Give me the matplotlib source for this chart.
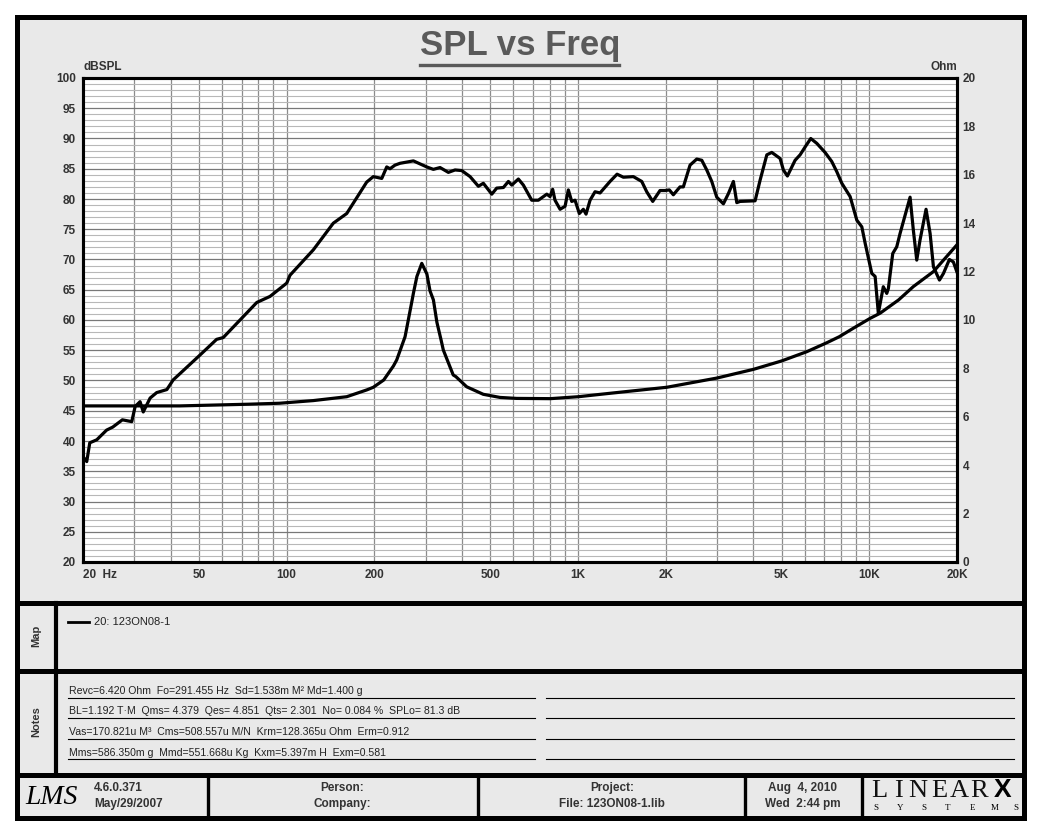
import numpy as np
import matplotlib.pyplot as plt
from matplotlib.ticker import FixedLocator, NullFormatter

plt.rcParams['font.family'] = ['Liberation Sans', 'DejaVu Sans']

# SPL curve (Hz, dB SPL)
freq_spl = [20.0, 20.6, 21.1, 22.3, 24.1, 25.3, 27.3, 29.4, 30.2, 31.4, 32.2, 34.0, 35.8, 38.8,
            40.8, 50.4, 57.5, 60.6, 79.0, 87.7, 100.1, 102.7, 123.5, 144.6, 160.8, 188.3, 198.4,
            212.1, 220.6, 226.4, 235.5, 245, 272.3, 287.1, 302.7, 318.9, 336.2, 359, 378.5, 399,
            426.3, 455.2, 473.4, 506, 526.1, 554.6, 577, 592.6, 624.4, 649.5, 693.9, 731.1, 781.7,
            801.8, 818.7, 834, 868.2, 903, 926.8, 951.9, 977.2, 1010.9, 1043.5, 1065.9, 1100.3,
            1144.5, 1190.7, 1288.4, 1362, 1431.9, 1549.2, 1655.6, 1721.8, 1805.7, 1912.4, 1989.6,
            2059, 2125, 2240, 2300, 2425, 2557, 2661, 2767, 2879, 2995, 3156, 3284, 3416, 3509,
            3601, 4055, 4218, 4449, 4626, 4941, 5071, 5235, 5563, 5787, 6021, 6296, 6603, 7049,
            7432, 7736, 8047, 8594, 9061, 9425, 9676, 10199, 10472, 10740, 11170, 11480, 11626,
            12037, 12422, 12753, 13803, 14160, 14550, 14930, 15660, 16170, 16600, 17410, 17970,
            18830, 19430, 19970]
spl_db = [37.4, 36.6, 39.7, 40.2, 41.8, 42.3, 43.5, 43.2, 45.7, 46.5, 44.8, 47.1, 48.0, 48.5,
          50.1, 54.2, 56.8, 57.1, 62.9, 63.9, 66.1, 67.4, 71.6, 76.0, 77.6, 82.8, 83.7,
          83.4, 85.3, 85.0, 85.6, 85.9, 86.3, 85.8, 85.3, 84.9, 85.2, 84.4, 84.8, 84.7,
          83.7, 82.1, 82.6, 80.8, 81.8, 81.9, 82.9, 82.3, 83.3, 82.3, 79.8, 79.8, 80.8,
          80.4, 81.6, 79.8, 78.3, 78.8, 81.5, 79.6, 79.8, 77.6, 78.3, 77.5, 79.8,
          81.2, 81.0, 82.9, 84.1, 83.6, 83.7, 82.9, 81.2, 79.6, 81.4, 81.4,
          81.5, 80.7, 82.0, 82.0, 85.6, 86.6, 86.4, 84.8, 82.9, 80.3, 79.2, 80.9, 82.9, 79.4,
          79.6, 79.7, 83.1, 87.3, 87.7, 86.7, 84.8, 83.8, 86.4, 87.3, 88.6, 90.0, 89.2, 87.7,
          86.2, 84.5, 82.6, 80.4, 76.5, 75.4, 72.7, 67.7, 67.2, 61.1, 65.5, 64.4, 65.2,
          71.0, 72.1, 74.3, 80.3, 74.9, 69.9, 73.2, 78.3, 74.3, 68.8, 66.6, 67.7,
          70.0, 69.6, 68.0]

# impedance curve (Hz, Ohm)
freq_z = [20, 42.9, 73.8, 94.5, 123.5, 160.8, 188.3, 198.4, 215.4, 232.6, 238.7, 255, 269.7,
          272.3, 280, 291, 303, 310.6, 319, 328, 339, 345, 373, 381, 415, 473, 540, 616, 804,
          1003, 1285, 2017, 2995, 4000, 5006, 6100, 7146, 7890, 8815, 10070, 10890, 12607,
          14160, 16600, 19970]
imp_ohm = [6.45, 6.45, 6.52, 6.56, 6.67, 6.83, 7.11, 7.22, 7.52, 8.1, 8.35, 9.31, 10.83,
           11.1, 11.8, 12.34, 11.9, 11.2, 10.83, 9.9, 9.17, 8.76, 7.73, 7.66, 7.24, 6.93, 6.80,
           6.76, 6.75, 6.83, 6.97, 7.22, 7.6, 7.96, 8.31, 8.69, 9.06, 9.31, 9.66, 10.07, 10.28,
           10.83, 11.38, 12.0, 13.1]

xtick_vals = [20, 50, 100, 200, 500, 1000, 2000, 5000, 10000, 20000]
xtick_labels = ['20  Hz', '50', '100', '200', '500', '1K', '2K', '5K', '10K', '20K']
notes = ['Revc=6.420 Ohm  Fo=291.455 Hz  Sd=1.538m M\u00b2 Md=1.400 g',
         'BL=1.192 T\u00b7M  Qms= 4.379  Qes= 4.851  Qts= 2.301  No= 0.084 %  SPLo= 81.3 dB',
         'Vas=170.821u M\u00b3  Cms=508.557u M/N  Krm=128.365u Ohm  Erm=0.912',
         'Mms=586.350m g  Mmd=551.668u Kg  Kxm=5.397m H  Exm=0.581']

W, H = 1040, 832
fig = plt.figure(figsize=(W / 100, H / 100), dpi=100)

# page frame, in pixel coordinates
bg = fig.add_axes([0, 0, 1, 1])
bg.set_xlim(0, W)
bg.set_ylim(H, 0)
bg.axis('off')
bg.add_patch(plt.Rectangle((16.5, 16.5), 1007.5, 801, fc='#e9e9e9', ec='black', lw=3.6))
for y in [602.5, 671, 775]:
    bg.plot([16.5, 1024], [y, y], color='black', lw=3.6, solid_capstyle='butt')
bg.plot([56, 56], [602.5, 775], color='black', lw=3.0)
for x in [208, 478, 745, 862]:
    bg.plot([x, x], [775, 817.5], color='black', lw=2.4)

dark = '#333333'
bg.text(520, 46, 'SPL vs Freq', fontsize=25, fontweight='bold', color='#5a5a5a', ha='center', va='center')
bg.plot([420, 619], [65, 65], color='#5a5a5a', lw=2.4)
bg.text(83, 67, 'dBSPL', fontsize=8.5, fontweight='bold', color=dark, ha='left', va='center')
bg.text(957, 67, 'Ohm', fontsize=8.5, fontweight='bold', color=dark, ha='right', va='center')

# map / notes panels
bg.text(36, 636, 'Map', fontsize=8, fontweight='bold', color=dark, rotation=90, ha='center', va='center')
bg.text(36, 722, 'Notes', fontsize=8, fontweight='bold', color=dark, rotation=90, ha='center', va='center')
bg.plot([68, 89], [622, 622], color='black', lw=2)
bg.text(94, 622, '20: 123ON08-1', fontsize=8, color='#222222', ha='left', va='center')
for i, line in enumerate(notes):
    y = 697.5 + i * 20.5
    bg.text(69, y - 1.5, line, fontsize=7.6, color='#222222', ha='left', va='bottom')
    bg.plot([68, 535], [y, y], color='black', lw=0.8)
    bg.plot([546, 1014], [y, y], color='black', lw=0.8)

# footer
bg.text(52, 797, 'LMS', fontsize=20, style='italic', family='Liberation Serif', ha='center', va='center')
bg.text(94, 788, '4.6.0.371', fontsize=8.5, fontweight='bold', color=dark, va='center')
bg.text(94, 804, 'May/29/2007', fontsize=8.5, fontweight='bold', color=dark, va='center')
bg.text(342, 788, 'Person:', fontsize=8.5, fontweight='bold', color=dark, ha='center', va='center')
bg.text(342, 804, 'Company:', fontsize=8.5, fontweight='bold', color=dark, ha='center', va='center')
bg.text(612, 788, 'Project:', fontsize=8.5, fontweight='bold', color=dark, ha='center', va='center')
bg.text(612, 804, 'File: 123ON08-1.lib', fontsize=8.5, fontweight='bold', color=dark, ha='center', va='center')
bg.text(803, 788, 'Aug  4, 2010', fontsize=8.5, fontweight='bold', color=dark, ha='center', va='center')
bg.text(803, 804, 'Wed  2:44 pm', fontsize=8.5, fontweight='bold', color=dark, ha='center', va='center')
for ch, x in zip('LINEAR', [879, 898, 918, 939, 959, 979]):
    bg.text(x, 791, ch, fontsize=19, family='Liberation Serif', color='#111111', ha='center', va='center')
bg.text(1003, 790, 'X', fontsize=19, fontweight='bold', family='Liberation Sans', ha='center', va='center')
for ch, x in zip('SYSTEMS', [876, 900, 924, 948, 972, 995, 1016]):
    bg.text(x, 808, ch, fontsize=6.5, family='Liberation Serif', ha='center', va='center')

# chart
ax = fig.add_axes([83 / W, 1 - 562 / H, 874 / W, 484 / H])
ax.set_facecolor('white')
ax.set_xscale('log')
ax.set_xlim(20, 20000)
ax.set_ylim(20, 100)
ax.plot(freq_spl, spl_db, color='black', lw=2.3, zorder=3)

grid_x = [k * 10 ** e for e in range(1, 5) for k in range(1, 10) if 20 < k * 10 ** e < 20000]
ax.set_xticks(xtick_vals)
ax.set_xticklabels(xtick_labels)
ax.xaxis.set_minor_locator(FixedLocator(grid_x))
ax.xaxis.set_minor_formatter(NullFormatter())
ax.set_yticks(np.arange(20, 101, 5))
ax.set_yticks(np.arange(20, 101, 1), minor=True)
ax.xaxis.grid(True, which='both', color='#8c8c8c', lw=0.9)
ax.yaxis.grid(True, which='minor', color='#b8b8b8', lw=0.8)
ax.yaxis.grid(True, which='major', color='#787878', lw=0.9)
ax.tick_params(which='both', length=0)
ax.tick_params(axis='y', pad=5)
ax.tick_params(axis='x', pad=5)
for lab in ax.get_xticklabels() + ax.get_yticklabels():
    lab.set_fontweight('bold')
    lab.set_fontsize(8.5)
    lab.set_color(dark)
ax.get_xticklabels()[0].set_horizontalalignment('left')
for s in ax.spines.values():
    s.set_linewidth(2.2)

ax2 = ax.twinx()
ax2.set_ylim(0, 20)
ax2.plot(freq_z, imp_ohm, color='black', lw=2.3, zorder=3)
ax2.set_yticks(np.arange(0, 21, 2))
ax2.tick_params(length=0, pad=4)
for lab in ax2.get_yticklabels():
    lab.set_fontweight('bold')
    lab.set_fontsize(8.5)
    lab.set_color(dark)
for s in ax2.spines.values():
    s.set_linewidth(2.2)

bg.text(925, 543, 'LMS', fontsize=13, style='italic', family='Liberation Serif', ha='center', va='center', zorder=5)
bg.set_zorder(0)
fig.savefig('out.png', dpi=100)
